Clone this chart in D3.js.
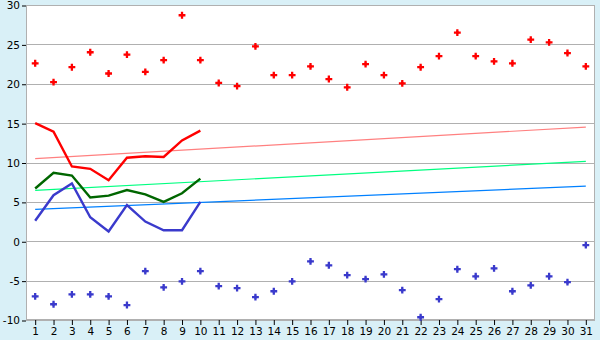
<!DOCTYPE html>
<html><head><meta charset="utf-8">
<script src="https://cdn.jsdelivr.net/npm/d3@7"></script>
<style>
html,body{margin:0;padding:0;background:#d9f0f7;}
svg{display:block;}
text{font-family:"DejaVu Sans",sans-serif;font-size:10px;fill:#000;}
</style></head><body>
<svg id="c" width="600" height="340"></svg>
<script>
const days = d3.range(1, 32);
const yTicks = [-10, -5, 0, 5, 10, 15, 20, 25, 30];
const maxTemps = [22.6,20.2,22.1,24.0,21.3,23.7,21.5,23.0,28.7,23.0,20.1,19.7,24.75,21.1,21.1,22.2,20.6,19.55,22.5,21.1,20.05,22.1,23.5,26.5,23.5,22.85,22.6,25.6,25.25,23.9,22.2];
const minTemps = [-7.0,-8.0,-6.75,-6.75,-7.0,-8.1,-3.8,-5.85,-5.1,-3.8,-5.7,-5.95,-7.1,-6.35,-5.1,-2.55,-3.05,-4.3,-4.8,-4.2,-6.2,-9.65,-7.35,-3.55,-4.45,-3.45,-6.35,-5.6,-4.45,-5.2,-0.5];
const redLine = [15.0,13.9,9.5,9.2,7.75,10.6,10.8,10.7,12.8,14.05];
const greenLine = [6.7,8.7,8.35,5.55,5.8,6.5,5.95,5.0,6.1,7.95];
const blueLine = [2.6,5.85,7.35,3.05,1.25,4.6,2.5,1.4,1.4,5.0];
const redTrend = [10.5, 14.5];
const greenTrend = [6.45, 10.15];
const blueTrend = [4.05, 7.0];

const svg = d3.select("#c");
const L = 26, R = 595, T = 5, B = 320;
const x = d3.scalePoint().domain(days).range([L, R]).padding(0.5);
const y = d3.scaleLinear().domain([-10, 30]).range([B, T]);

svg.append("rect").attr("x", L).attr("y", T).attr("width", R - L).attr("height", B - T).attr("fill", "#fff");

// grid
svg.append("g").selectAll("line").data(yTicks).join("line")
  .attr("x1", L).attr("x2", R).attr("y1", d => Math.round(y(d)) + 0.5).attr("y2", d => Math.round(y(d)) + 0.5)
  .attr("stroke", "#b0b0b0").attr("stroke-width", 1);

// border
svg.append("rect").attr("x", L + 0.5).attr("y", T + 0.5).attr("width", R - L - 1).attr("height", B - T - 1)
  .attr("fill", "none").attr("stroke", "#b0b0b0");

// axes
const yAxis = d3.axisLeft(y).tickValues(yTicks).tickSize(4).tickPadding(2).tickFormat(d => String(d));
const gy = svg.append("g").attr("transform", `translate(${L},0.5)`).call(yAxis);
gy.select(".domain").remove();
gy.selectAll("line").attr("stroke", "#000");
gy.selectAll("text").style("font-size", "10.5px");

const xAxis = d3.axisBottom(x).tickSize(5).tickPadding(3);
const gx = svg.append("g").attr("transform", `translate(0,${B})`).call(xAxis);
gx.select(".domain").remove();
gx.selectAll("line").attr("stroke", "#000");
gx.selectAll("text").style("font-size", "10.5px");

// trends
const trendLine = (vals, color) => svg.append("line")
  .attr("x1", x(1)).attr("x2", x(31)).attr("y1", y(vals[0])).attr("y2", y(vals[1]))
  .attr("stroke", color).attr("stroke-width", 1.2);
trendLine(redTrend, "#ff8080");
trendLine(greenTrend, "#00ff80");
trendLine(blueTrend, "#0080ff");

// lines
const line = d3.line().x((d, i) => x(days[i])).y(d => y(d));
const drawLine = (vals, color) => svg.append("path").datum(vals).attr("d", line)
  .attr("fill", "none").attr("stroke", color).attr("stroke-width", 2.4);
drawLine(redLine, "#ff0000");
drawLine(greenLine, "#006600");
drawLine(blueLine, "#3a3acc");

// scatter
const sym = d3.symbol().type(d3.symbolCross).size(26);
const dia = d3.symbol().type(d3.symbolDiamond).size(10);
const drawPts = (vals, color) => {
  const g = svg.append("g").selectAll("g").data(vals).join("g")
    .attr("transform", (d, i) => `translate(${x(days[i])},${y(d)})`).attr("fill", color);
  g.append("path").attr("d", sym);
  g.append("path").attr("d", dia);
};
drawPts(maxTemps, "#ff0000");
drawPts(minTemps, "#3a3acc");
</script></body></html>
